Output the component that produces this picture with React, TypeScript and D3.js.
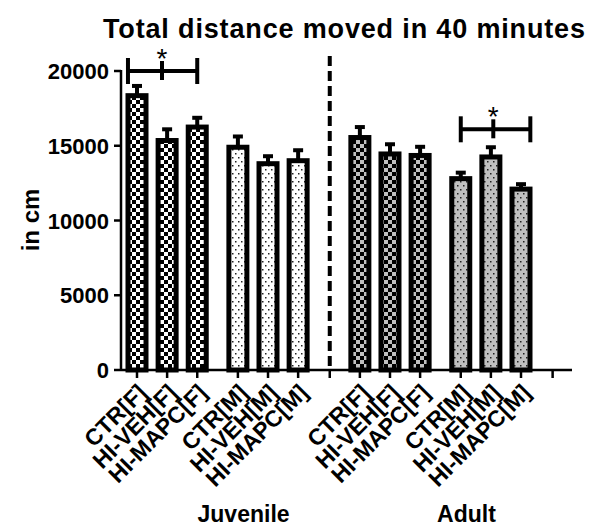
import * as d3 from "d3";
import { useEffect, useRef } from "react";

/* ------------------------------------------------------------------ */
/*  Data                                                               */
/* ------------------------------------------------------------------ */

const CATEGORIES = [
  "CTR[F]", "HI-VEH[F]", "HI-MAPC[F]",
  "CTR[M]", "HI-VEH[M]", "HI-MAPC[M]",
  "CTR[F]", "HI-VEH[F]", "HI-MAPC[F]",
  "CTR[M]", "HI-VEH[M]", "HI-MAPC[M]",
];
const MEANS = [18350, 15350, 16250, 14900, 13800, 14000, 15550, 14450, 14350, 12800, 14250, 12100];
const SEMS = [650, 750, 620, 720, 500, 700, 700, 650, 580, 400, 650, 330];
// pattern per subgroup: juvenile F, juvenile M, adult F, adult M
const PATTERNS = ["checkWhite", "dotsWhite", "checkGray", "dotsGray"];
const GROUPS = ["Juvenile", "Adult"];
const Y_TICKS = [0, 5000, 10000, 15000, 20000];
// significance brackets, in category-position units
const BRACKETS = [
  { from: -0.3, mid: 0.83, to: 2, value: 20000 },
  { from: 10.75, mid: 11.83, to: 13.06, value: 16100 },
];

/* ------------------------------------------------------------------ */
/*  Theme                                                              */
/* ------------------------------------------------------------------ */

const W = 591;
const H = 530;
const FONT = "'Liberation Sans', Arial, Helvetica, sans-serif";
const GRAY = "#c0c0c0";
const SUB_OFFSET = [0, 0.35, 1.4, 1.75];
const DIVIDER_POS = 6.4;
const END_POS = 13.8;

const pos = (i: number) => i + SUB_OFFSET[Math.floor(i / 3)];

export default function App() {
  const svgRef = useRef<SVGSVGElement>(null);

  useEffect(() => {
    document.body.style.margin = "0";
    const svg = d3.select(svgRef.current);
    svg.selectAll("*").remove();

    const x = d3.scaleLinear().domain([0, 12.75]).range([137, 521]);
    const y = d3.scaleLinear().domain([0, 20000]).range([370, 71]);
    const axisX = 121;

    /* Patterns */
    const defs = svg.append("defs");
    const check = (id: string, fill: string) => {
      const p = defs.append("pattern").attr("id", id).attr("patternUnits", "userSpaceOnUse")
        .attr("width", 8).attr("height", 8);
      p.append("rect").attr("width", 8).attr("height", 8).attr("fill", "#000");
      p.append("rect").attr("x", 0).attr("y", 0).attr("width", 4).attr("height", 4).attr("fill", fill);
      p.append("rect").attr("x", 4).attr("y", 4).attr("width", 4).attr("height", 4).attr("fill", fill);
    };
    const dots = (id: string, fill: string) => {
      const p = defs.append("pattern").attr("id", id).attr("patternUnits", "userSpaceOnUse")
        .attr("width", 6).attr("height", 8);
      p.append("rect").attr("width", 6).attr("height", 8).attr("fill", fill);
      p.append("rect").attr("x", 1).attr("y", 1).attr("width", 1.5).attr("height", 1.5).attr("fill", "#222");
      p.append("rect").attr("x", 4).attr("y", 5).attr("width", 1.5).attr("height", 1.5).attr("fill", "#222");
    };
    check("checkWhite", "#fff");
    check("checkGray", GRAY);
    dots("dotsWhite", "#fff");
    dots("dotsGray", GRAY);

    const g = svg.append("g");
    const bold = (sel: d3.Selection<SVGTextElement, unknown, null, undefined>, size: number) =>
      sel.attr("font-family", FONT).attr("font-weight", "bold").attr("font-size", size);

    /* Title */
    g.append("text")
      .attr("x", 103).attr("y", 38)
      .call(bold, 27)
      .attr("textLength", 482).attr("lengthAdjust", "spacing")
      .text("Total distance moved in 40 minutes");

    /* Bars */
    const barW = 18;
    g.selectAll("rect.bar")
      .data(MEANS)
      .join("rect")
      .attr("class", "bar")
      .attr("x", (_, i) => x(pos(i)) - barW / 2)
      .attr("y", (d) => y(d))
      .attr("width", barW)
      .attr("height", (d) => y(0) - y(d))
      .attr("fill", (_, i) => `url(#${PATTERNS[Math.floor(i / 3)]})`)
      .attr("stroke", "#000")
      .attr("stroke-width", 5);

    /* Error bars (upper only) */
    MEANS.forEach((m, i) => {
      const cx = x(pos(i));
      g.append("line").attr("x1", cx).attr("x2", cx)
        .attr("y1", y(m)).attr("y2", y(m + SEMS[i]))
        .attr("stroke", "#000").attr("stroke-width", 4);
      g.append("line").attr("x1", cx - 5).attr("x2", cx + 5)
        .attr("y1", y(m + SEMS[i])).attr("y2", y(m + SEMS[i]))
        .attr("stroke", "#000").attr("stroke-width", 4);
    });

    /* Y axis */
    g.append("line").attr("x1", axisX).attr("x2", axisX).attr("y1", y(20000) - 1).attr("y2", y(0) + 1)
      .attr("stroke", "#000").attr("stroke-width", 2.5);
    Y_TICKS.forEach((t) => {
      g.append("line").attr("x1", axisX - 7).attr("x2", axisX).attr("y1", y(t)).attr("y2", y(t))
        .attr("stroke", "#000").attr("stroke-width", 2.5);
      g.append("text").attr("x", 109).attr("y", y(t) + 8)
        .attr("text-anchor", "end")
        .call(bold, 22)
        .text(t);
    });
    g.append("text")
      .attr("transform", `translate(39,220) rotate(-90)`)
      .attr("text-anchor", "middle")
      .call(bold, 24)
      .text("in cm");

    /* X axis */
    g.append("line").attr("x1", axisX).attr("x2", 572).attr("y1", y(0)).attr("y2", y(0))
      .attr("stroke", "#000").attr("stroke-width", 2.5);
    const tickPos = [...CATEGORIES.map((_, i) => pos(i)), DIVIDER_POS, END_POS];
    tickPos.forEach((p) => {
      g.append("line").attr("x1", x(p)).attr("x2", x(p)).attr("y1", y(0)).attr("y2", y(0) + 8)
        .attr("stroke", "#000").attr("stroke-width", 2.5);
    });
    CATEGORIES.forEach((c, i) => {
      g.append("text")
        .attr("transform", `translate(${x(pos(i)) + 11},${y(0) + 24}) rotate(-45)`)
        .attr("text-anchor", "end")
        .call(bold, 23)
        .text(c);
    });

    /* Group labels */
    [[0, 5], [6, 11]].forEach(([a, b], gi) => {
      const cx = (x(pos(a)) + x(pos(b))) / 2 + 26;
      g.append("text").attr("x", cx).attr("y", 522)
        .attr("text-anchor", "middle")
        .call(bold, 23)
        .text(GROUPS[gi]);
    });

    /* Divider */
    g.append("line").attr("x1", x(DIVIDER_POS)).attr("x2", x(DIVIDER_POS))
      .attr("y1", 56).attr("y2", y(0))
      .attr("stroke", "#000").attr("stroke-width", 4)
      .attr("stroke-dasharray", "10 5");

    /* Significance brackets */
    BRACKETS.forEach((b) => {
      const by = y(b.value);
      g.append("line").attr("x1", x(b.from)).attr("x2", x(b.to)).attr("y1", by).attr("y2", by)
        .attr("stroke", "#000").attr("stroke-width", 4);
      [b.from, b.to].forEach((e) => {
        g.append("line").attr("x1", x(e)).attr("x2", x(e)).attr("y1", by - 13).attr("y2", by + 13)
          .attr("stroke", "#000").attr("stroke-width", 4);
      });
      g.append("line").attr("x1", x(b.mid)).attr("x2", x(b.mid)).attr("y1", by - 10).attr("y2", by + 9)
        .attr("stroke", "#000").attr("stroke-width", 4);
      g.append("text").attr("x", x(b.mid)).attr("y", by - 3)
        .attr("text-anchor", "middle")
        .attr("font-family", FONT).attr("font-size", 28)
        .text("*");
    });
  }, []);

  return <svg ref={svgRef} width={W} height={H} style={{ display: "block", background: "#fff" }} />;
}
